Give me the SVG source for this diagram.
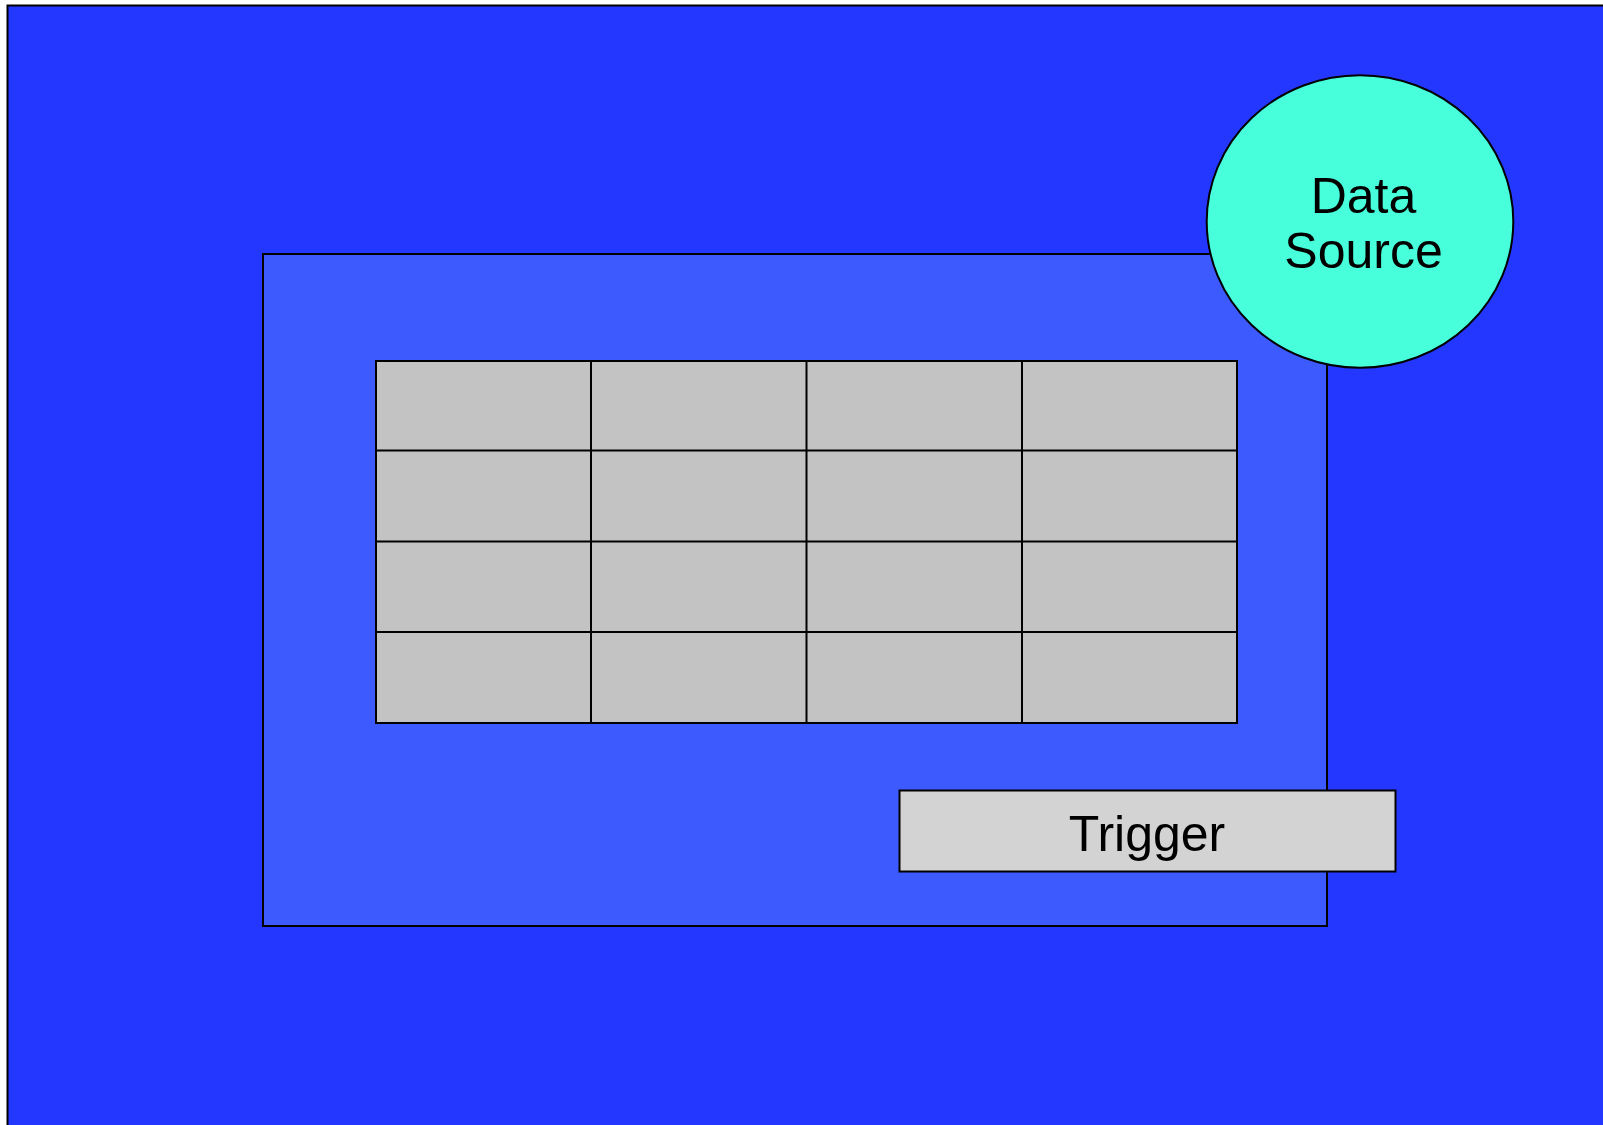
<svg xmlns="http://www.w3.org/2000/svg" width="1603" height="1125" viewBox="0 0 1603 1125">
<style>
.b{stroke:#000;stroke-width:2}
.cell{fill:#c3c3c3;stroke:#000;stroke-width:2}
.t{font-family:"Liberation Sans",Arial,sans-serif;font-size:50px;fill:#000;text-anchor:middle}
</style>
<rect width="1603" height="1125" fill="#fff"/>
<g id="outer"><rect class="b" x="7.5" y="5.5" width="1700" height="1200" fill="#2437ff"/></g>
<g id="inner"><rect class="b" x="263" y="254" width="1064" height="672" fill="#3d5afe"/></g>
<g id="grid">
<rect class="cell" x="376" y="361" width="861" height="362"/>
<path d="M591 361V723M806.5 361V723M1022 361V723M376 450.5H1237M376 541.5H1237M376 632H1237" stroke="#000" stroke-width="2" fill="none"/>
</g>
<g id="datasource">
<ellipse class="b" cx="1360" cy="221.5" rx="153.3" ry="146.3" fill="#48ffdb"/>
<text class="t" x="1363.5" y="213">Data</text>
<text class="t" x="1363.5" y="268">Source</text>
</g>
<g id="trigger">
<rect class="b" x="899.5" y="790.5" width="496" height="81" fill="#d3d3d3"/>
<text class="t" x="1147" y="850.5">Trigger</text>
</g>
<g id="connectors"/>
</svg>
